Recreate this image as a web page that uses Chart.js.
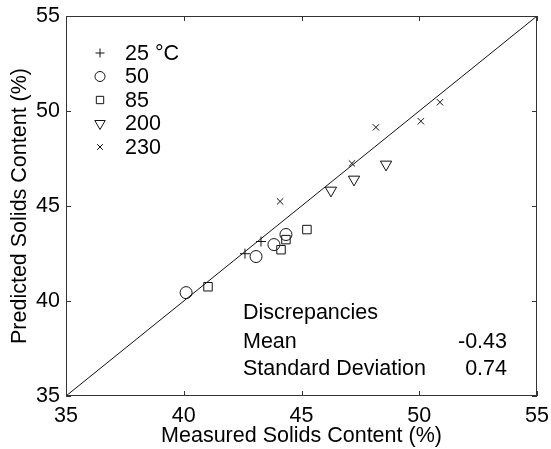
<!DOCTYPE html>
<html>
<head>
<meta charset="utf-8">
<script src="https://cdn.jsdelivr.net/npm/chart.js@4.4.0/dist/chart.umd.min.js"></script>
<style>
  html, body { margin: 0; padding: 0; background: #fff; }
  #solidsChart { display: block; }
</style>
</head>
<body>
<canvas id="solidsChart" width="551" height="449"></canvas>
<script>
// Measured (x) vs predicted (y) solids content, one series per temperature
const measured25 = [42.60, 43.28];
const predicted25 = [42.49, 43.13];
const measured50 = [40.10, 43.07, 43.83, 44.34];
const predicted50 = [40.44, 42.34, 42.97, 43.50];
const measured85 = [41.03, 44.13, 44.34, 45.23];
const predicted85 = [40.75, 42.70, 43.23, 43.76];
const measured200 = [46.25, 47.23, 48.59];
const predicted200 = [45.82, 46.40, 47.19];
const measured230 = [44.09, 47.14, 48.16, 50.07, 50.88];
const predicted230 = [45.24, 47.24, 49.14, 49.46, 50.46];

// 1:1 reference line
const parityLine = [35, 55];

const seriesLabels = ['25 °C', '50', '85', '200', '230'];
const tickValues = [35, 40, 45, 50, 55];

const statTitle = 'Discrepancies';
const statLabels = ['Mean', 'Standard Deviation'];
const statValues = ['-0.43', '0.74'];

const FONT = '"Liberation Sans", Arial, Helvetica, sans-serif';
const FONT_SIZE = 21.5;
Chart.defaults.font.family = FONT;
Chart.defaults.font.size = FONT_SIZE;
Chart.defaults.color = '#000';

function toPoints(xs, ys) {
    return xs.map((v, i) => ({ x: v, y: ys[i] }));
}

// marker styles, also used by the hand drawn legend
const markers = [
    { pointStyle: 'cross', radius: 5, rotation: 0, legendRadius: 4.5 },
    { pointStyle: 'circle', radius: 6, rotation: 0, legendRadius: 5 },
    { pointStyle: 'rect', radius: 6, rotation: 0, legendRadius: 5.2 },
    { pointStyle: 'triangle', radius: 6.5, rotation: 180, legendRadius: 6 },
    { pointStyle: 'crossRot', radius: 4.5, rotation: 0, legendRadius: 4 }
];

const seriesData = [
    toPoints(measured25, predicted25),
    toPoints(measured50, predicted50),
    toPoints(measured85, predicted85),
    toPoints(measured200, predicted200),
    toPoints(measured230, predicted230)
];

const datasets = seriesData.map((pts, i) => ({
    label: seriesLabels[i],
    data: pts,
    pointStyle: markers[i].pointStyle,
    pointRadius: markers[i].radius,
    pointRotation: markers[i].rotation,
    pointBorderColor: '#111',
    pointBackgroundColor: 'rgba(0,0,0,0)',
    pointBorderWidth: 1
}));

datasets.push({
    label: 'parity',
    data: toPoints(parityLine, parityLine),
    showLine: true,
    borderColor: '#111',
    borderWidth: 1,
    pointRadius: 0
});

// box, inward ticks, legend and the discrepancy note
const overlayPlugin = {
    id: 'overlay',
    afterDraw(chart) {
        const { ctx, chartArea: a, scales: { x, y } } = chart;
        ctx.save();
        ctx.strokeStyle = '#333';
        ctx.lineWidth = 1;
        ctx.strokeRect(Math.round(a.left) + 0.5, Math.round(a.top) + 0.5,
            Math.round(a.width) - 1, Math.round(a.height) - 1);

        ctx.beginPath();
        tickValues.forEach(v => {
            const px = Math.round(x.getPixelForValue(v)) + 0.5;
            const py = Math.round(y.getPixelForValue(v)) + 0.5;
            ctx.moveTo(px, a.bottom); ctx.lineTo(px, a.bottom - 5);
            ctx.moveTo(px, a.top); ctx.lineTo(px, a.top + 5);
            ctx.moveTo(a.left, py); ctx.lineTo(a.left + 5, py);
            ctx.moveTo(a.right, py); ctx.lineTo(a.right - 5, py);
        });
        ctx.stroke();

        // legend
        ctx.font = FONT_SIZE + 'px ' + FONT;
        ctx.fillStyle = '#000';
        ctx.textBaseline = 'middle';
        ctx.textAlign = 'left';
        seriesLabels.forEach((lab, i) => {
            const cy = a.top + 37 + i * 23.5;
            const cx = a.left + 34;
            ctx.save();
            ctx.strokeStyle = '#111';
            ctx.fillStyle = 'rgba(0,0,0,0)';
            ctx.lineWidth = 1;
            Chart.helpers.drawPoint(ctx, {
                pointStyle: markers[i].pointStyle,
                radius: markers[i].legendRadius,
                rotation: markers[i].rotation,
                borderWidth: 1
            }, cx, cy);
            ctx.restore();
            ctx.fillText(lab, a.left + 59, cy + 1);
        });

        // discrepancy summary
        const tx = a.left + 177;
        const vx = a.left + 441;
        ctx.fillText(statTitle, tx, a.top + 297);
        statLabels.forEach((lab, i) => {
            const cy = a.top + 326 + i * 27;
            ctx.textAlign = 'left';
            ctx.fillText(lab, tx, cy);
            ctx.textAlign = 'right';
            ctx.fillText(statValues[i], vx, cy);
        });
        ctx.restore();
    }
};

const ctx = document.getElementById('solidsChart').getContext('2d');
new Chart(ctx, {
    type: 'scatter',
    data: { datasets: datasets },
    options: {
        responsive: false,
        animation: false,
        layout: { padding: { top: 16, right: 14, left: 0, bottom: 0 } },
        plugins: {
            legend: { display: false },
            tooltip: { enabled: false }
        },
        scales: {
            x: {
                type: 'linear',
                min: 35,
                max: 55,
                afterBuildTicks: s => { s.ticks = tickValues.map(v => ({ value: v })); },
                afterFit: s => { s.height = 53; s.paddingLeft = 0; s.paddingRight = 0; },
                grid: { display: false, drawTicks: false },
                border: { display: false },
                ticks: { padding: 7, color: '#000', maxRotation: 0 },
                title: {
                    display: true,
                    text: 'Measured Solids Content (%)',
                    color: '#000',
                    padding: { top: 0, bottom: 0 }
                }
            },
            y: {
                type: 'linear',
                min: 35,
                max: 55,
                afterBuildTicks: s => { s.ticks = tickValues.map(v => ({ value: v })); },
                afterFit: s => { s.width = 66; s.paddingTop = 0; s.paddingBottom = 0; },
                grid: { display: false, drawTicks: false },
                border: { display: false },
                ticks: { padding: 6, color: '#000' },
                title: {
                    display: true,
                    text: 'Predicted Solids Content (%)',
                    color: '#000',
                    padding: { top: 7, bottom: 0 }
                }
            }
        }
    },
    plugins: [overlayPlugin]
});
</script>
</body>
</html>
